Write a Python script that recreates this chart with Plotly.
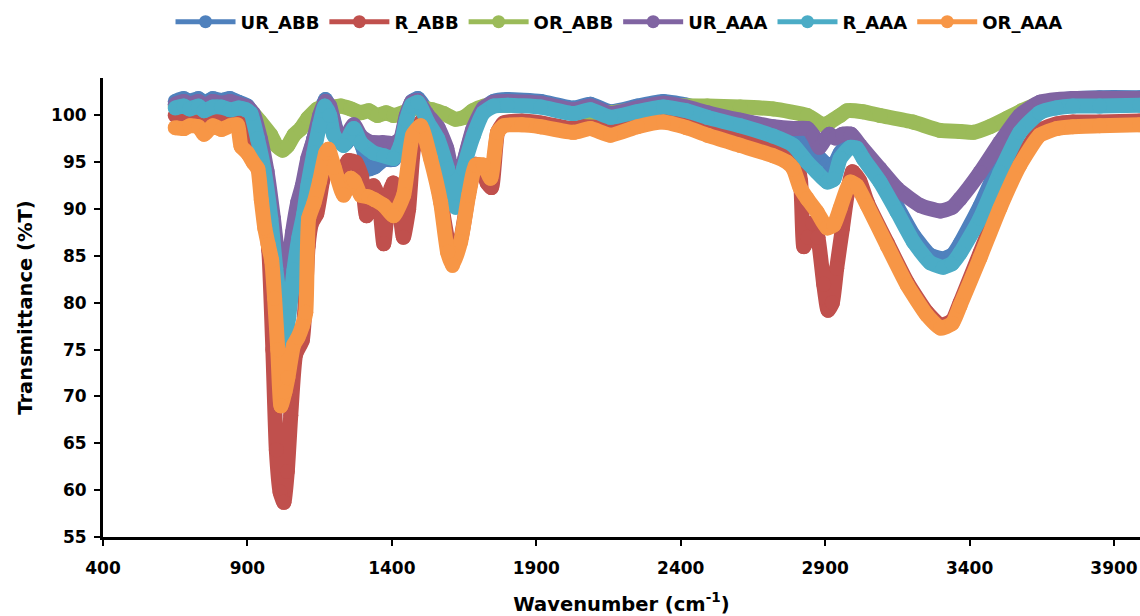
import plotly.graph_objects as go

# ---------------- data ----------------
ur_abb_x = [650,680,700,730,750,780,810,840,870,900,920,945,968,990,1010,1025,1040,1056,1074,1090,
            1109,1130,1150,1170,1190,1210,1240,1270,1300,1320,1340,1372,1406,1430,1450,1470,1490,1520,1560,1590,
            1620,1645,1680,1717,1752,1800,1915,2029,2087,2157,2250,2340,2420,2492,2606,2720,2790,2838,2870,2907,
            2925,2952,2987,3010,3032,3090,3149,3206,3263,3309,3340,3367,3436,3505,3574,3643,3700,3758,3850,3990]
ur_abb_y = [101.5,101.8,101.5,101.8,101.3,101.8,101.6,101.8,101.4,101.0,100.0,96.5,92.0,86.0,80.5,78.5,80.0,85.0,89.5,92.0,
            95.0,97.5,100.2,101.7,100.5,98.2,97.0,98.5,96.5,94.3,94.5,95.3,95.3,97.0,99.8,101.5,101.8,100.5,98.5,95.5,
            91.5,94.5,98.3,100.7,101.5,101.7,101.5,100.8,101.2,100.4,101.0,101.5,101.1,100.4,99.5,98.6,97.8,96.8,95.8,94.7,
            94.4,96.0,97.2,97.0,96.0,93.5,90.3,87.2,85.1,84.7,85.1,86.3,90.3,95.0,99.0,101.0,101.6,101.8,101.9,101.9]

r_abb_x = [650,680,700,730,750,780,810,840,870,890,910,930,950,974,988,1000,1013,1026,1038,1050,
           1067,1090,1100,1110,1122,1140,1160,1180,1200,1220,1250,1275,1295,1312,1337,1355,1372,1390,1405,1422,
           1440,1458,1475,1500,1534,1569,1595,1615,1640,1666,1690,1710,1730,1745,1766,1787,1850,1915,2029,2087,
           2157,2250,2340,2420,2492,2606,2720,2769,2800,2815,2826,2840,2856,2875,2895,2910,2925,2940,2960,2976,
           2995,3020,3046,3115,3184,3252,3300,3340,3367,3436,3505,3574,3643,3702,3758,3850,3990]
r_abb_y = [100.0,99.8,100.1,99.9,99.6,100.0,99.9,100.1,99.8,98.8,97.5,96.0,92.0,85.6,75.0,64.3,59.8,58.7,62.0,68.0,
           74.5,76.0,80.0,86.0,88.5,89.5,93.0,95.5,94.0,93.5,95.2,95.0,93.5,89.3,92.5,91.0,86.3,91.5,92.8,91.0,
           87.0,90.0,96.5,99.3,96.0,91.0,86.5,85.2,87.0,91.8,94.8,94.5,92.8,92.3,98.2,99.2,99.4,99.2,98.6,99.0,
           98.3,99.1,99.6,99.1,98.4,97.5,96.6,96.0,95.0,93.0,86.0,87.0,88.5,87.0,82.0,79.2,80.0,83.7,88.0,91.5,
           94.0,93.0,90.7,86.4,82.2,79.0,77.6,78.1,80.0,85.3,90.6,95.2,98.4,99.1,99.3,99.3,99.4]

or_abb_x = [650,700,750,800,850,880,912,945,981,1000,1022,1040,1061,1085,1109,1143,1170,1200,1223,1258,
            1292,1320,1350,1380,1406,1440,1470,1500,1540,1580,1620,1650,1680,1720,1800,1915,2029,2157,2340,2492,
            2606,2720,2838,2893,2917,2952,2976,3030,3090,3204,3298,3367,3412,3470,3530,3580,3619,3700,3800,3990]
or_abb_y = [101.0,101.0,100.8,101.0,101.0,101.0,100.5,99.3,97.9,96.8,96.3,96.8,97.9,98.6,99.7,100.7,100.8,100.9,101.0,100.7,
            100.3,100.5,100.0,100.3,100.0,100.3,100.7,100.8,100.6,100.2,99.6,99.8,100.5,101.0,101.1,101.0,100.5,100.3,101.0,101.0,
            100.9,100.7,100.0,99.0,99.3,100.0,100.5,100.4,100.0,99.3,98.4,98.3,98.2,98.8,99.7,100.5,101.0,101.4,101.5,101.5]

ur_aaa_x = [650,680,700,730,750,780,810,840,870,900,920,945,968,990,1005,1020,1030,1040,1056,1074,
            1090,1109,1130,1150,1170,1185,1205,1233,1268,1292,1320,1340,1372,1406,1430,1450,1468,1490,1520,1560,
            1590,1610,1625,1645,1680,1717,1752,1800,1915,2029,2087,2157,2250,2340,2420,2492,2606,2720,2790,2838,
            2860,2880,2900,2915,2935,2960,2990,3021,3090,3149,3229,3298,3340,3367,3436,3505,3574,3643,3758,3990]
ur_aaa_y = [101.2,101.5,101.2,101.5,101.0,101.5,101.3,101.5,101.2,100.9,100.2,97.5,94.0,89.0,85.0,82.3,82.0,83.7,87.5,90.7,
            92.5,95.4,97.5,100.0,101.5,101.0,98.6,97.4,99.0,97.8,97.2,97.1,97.1,97.0,97.5,100.0,101.4,101.6,100.2,98.7,
            96.5,93.5,92.0,94.5,98.5,100.8,101.4,101.5,101.3,100.6,101.0,100.2,100.8,101.3,100.9,100.3,99.5,98.8,98.6,98.6,
            97.8,96.6,97.5,98.0,97.6,98.0,98.0,96.8,94.3,92.2,90.4,89.8,90.2,91.1,93.9,97.1,100.0,101.4,101.8,101.8]

r_aaa_x = [650,680,700,730,750,780,810,840,870,895,912,935,957,981,998,1015,1030,1043,1061,1078,
           1095,1109,1130,1150,1168,1185,1199,1233,1268,1292,1337,1372,1406,1430,1450,1468,1490,1524,1559,1593,
           1621,1648,1683,1717,1752,1800,1915,2029,2087,2157,2250,2340,2420,2492,2606,2720,2790,2838,2870,2907,
           2930,2952,2987,3010,3032,3090,3149,3206,3263,3309,3340,3367,3436,3505,3574,3643,3700,3758,3850,3990]
r_aaa_y = [100.8,101.0,100.7,101.0,100.5,100.9,100.9,100.6,100.8,100.6,100.2,97.5,94.3,89.0,83.7,79.5,75.8,78.5,83.5,87.0,
           89.5,92.5,96.0,99.0,101.0,100.0,97.9,96.8,98.6,97.1,96.0,95.7,95.4,96.8,99.5,101.1,101.4,99.3,97.5,94.3,
           90.2,94.3,97.9,100.3,101.0,101.1,100.9,100.2,100.6,99.8,100.4,100.9,100.5,99.8,98.9,97.8,96.8,95.0,94.0,92.9,
           93.2,95.4,96.6,96.5,95.4,92.9,89.7,86.5,84.3,83.8,84.2,85.3,89.0,93.9,98.2,100.3,100.8,101.0,101.0,101.1]

or_aaa_x = [650,680,700,730,750,780,810,840,865,878,900,920,936,948,960,972,984,994,1005,1016,
            1030,1040,1060,1075,1090,1102,1112,1130,1150,1171,1180,1200,1233,1258,1270,1292,1320,1340,1372,1406,
            1441,1472,1500,1534,1569,1593,1610,1638,1666,1690,1717,1742,1766,1787,1850,1915,2029,2087,2157,2250,
            2340,2420,2492,2606,2720,2769,2790,2813,2838,2872,2907,2930,2952,2987,3010,3046,3115,3184,3252,3300,
            3340,3367,3436,3505,3574,3643,3702,3758,3850,3990]
or_aaa_y = [98.7,98.6,98.9,98.8,98.0,98.9,98.5,98.9,99.0,96.7,96.0,95.0,94.3,91.0,88.0,86.2,84.5,80.5,75.0,69.0,
            70.5,72.0,75.5,76.3,77.5,79.0,89.0,90.6,93.0,96.0,96.4,94.5,91.5,93.3,93.0,91.5,91.3,91.0,90.4,89.3,
            91.5,97.9,98.9,95.4,90.7,85.4,84.0,86.5,91.5,94.7,94.7,93.3,98.2,98.9,99.0,98.8,98.2,98.6,97.9,98.8,
            99.3,98.7,97.9,96.8,95.7,95.0,94.3,92.3,91.1,89.7,88.0,88.3,90.1,92.9,92.5,90.4,86.1,81.9,78.7,77.3,
            77.8,79.7,84.8,90.1,94.7,97.9,98.6,98.8,98.9,99.0]

series_names = ["UR_ABB", "R_ABB", "OR_ABB", "UR_AAA", "R_AAA", "OR_AAA"]
series_x = [ur_abb_x, r_abb_x, or_abb_x, ur_aaa_x, r_aaa_x, or_aaa_x]
series_y = [ur_abb_y, r_abb_y, or_abb_y, ur_aaa_y, r_aaa_y, or_aaa_y]
colors = ["#4F81BD", "#C0504D", "#9BBB59", "#8064A2", "#4BACC6", "#F79646"]

x_ticks = [400, 900, 1400, 1900, 2400, 2900, 3400, 3900]
y_ticks = [55, 60, 65, 70, 75, 80, 85, 90, 95, 100]

FONT = "DejaVu Sans"

fig = go.Figure()
for name, xs, ys, c in zip(series_names, series_x, series_y, colors):
    fig.add_trace(go.Scatter(
        x=xs, y=ys, name=name, mode="lines+markers", showlegend=False,
        legendgroup=name,
        line=dict(color=c, width=15, shape="spline", smoothing=0.5),
        marker=dict(color=c, size=15, symbol="circle", line=dict(width=0)),
    ))
# legend entries (thinner line with a circle marker, like the reference legend)
for name, c in zip(series_names, colors):
    fig.add_trace(go.Scatter(
        x=[None], y=[None], name=name, mode="lines+markers", legendgroup=name,
        line=dict(color=c, width=5),
        marker=dict(color=c, size=13, symbol="circle", line=dict(width=0)),
    ))

axis_common = dict(showgrid=False, zeroline=False, showline=True, linecolor="black",
                   linewidth=3, ticks="outside", ticklen=6, tickwidth=2, tickcolor="black")

fig.update_layout(
    width=1140, height=616,
    margin=dict(l=103, r=0, t=78, b=79),
    paper_bgcolor="white", plot_bgcolor="white",
    font=dict(family=FONT, color="black"),
    showlegend=True,
    legend=dict(orientation="h", xref="container", yref="container",
                x=0.543, xanchor="center", y=1 - 22 / 616, yanchor="middle",
                font=dict(family=FONT, size=18, color="black", weight="bold"),
                itemwidth=60, tracegroupgap=0),
    xaxis=dict(range=[400, 3990], tickvals=x_ticks, ticktext=[str(v) for v in x_ticks],
               tickfont=dict(family=FONT, size=17, color="black", weight="bold"),
               ticklabelstandoff=8,
               title=dict(text="Wavenumber (cm<sup>-1</sup>)", standoff=20,
                          font=dict(family=FONT, size=19.5, color="black", weight="bold")),
               **axis_common),
    yaxis=dict(range=[55, 104], tickvals=y_ticks, ticktext=[str(v) for v in y_ticks],
               tickfont=dict(family=FONT, size=17, color="black", weight="bold"),
               ticklabelstandoff=4,
               title=dict(text="Transmittance (%T)", standoff=14,
                          font=dict(family=FONT, size=19.5, color="black", weight="bold")),
               **axis_common),
    xaxis2=dict(overlaying="x", matches="x", anchor="y", showgrid=False, zeroline=False,
                showline=False, showticklabels=False, ticks="inside", ticklen=6,
                tickwidth=2, tickcolor="black", tickvals=x_ticks, range=[400, 3990]),
    yaxis2=dict(overlaying="y", matches="y", anchor="x", showgrid=False, zeroline=False,
                showline=False, showticklabels=False, ticks="inside", ticklen=6,
                tickwidth=2, tickcolor="black", tickvals=y_ticks, range=[55, 104]),
)

fig.write_html("out.html")
